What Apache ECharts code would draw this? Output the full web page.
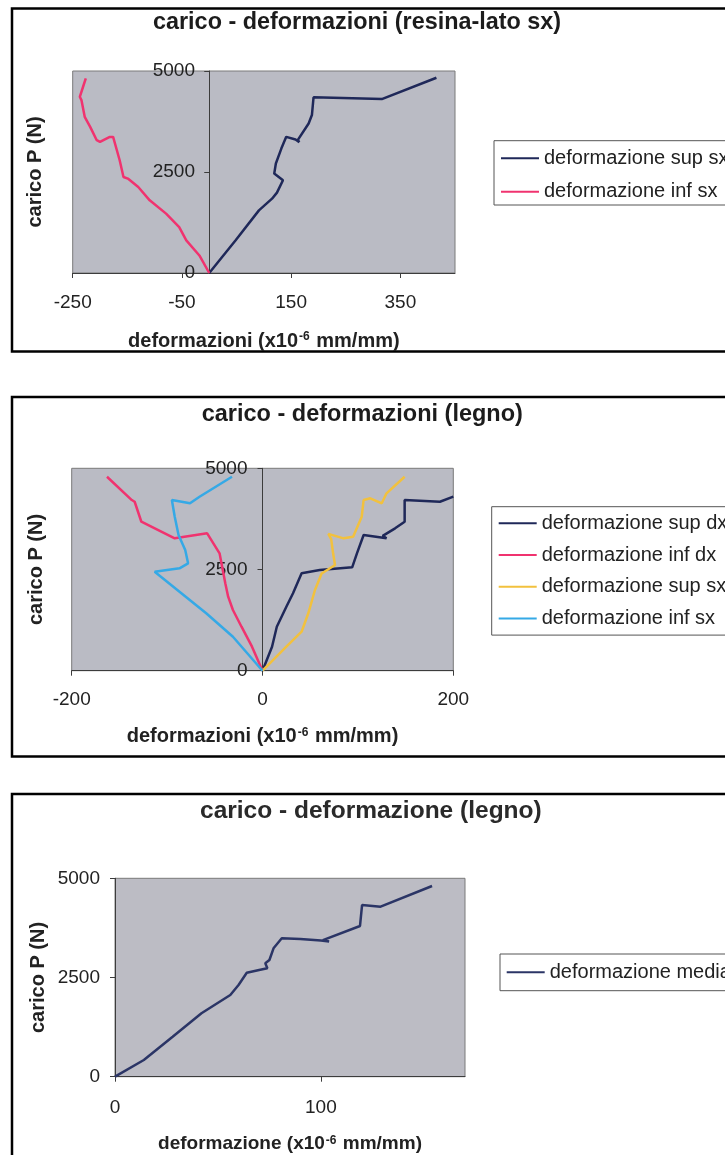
<!DOCTYPE html>
<html>
<head>
<meta charset="utf-8">
<script src="https://cdn.jsdelivr.net/npm/echarts@6/dist/echarts.min.js"></script>
<style>
  html, body { margin: 0; padding: 0; background: #fff; }
  #main { width: 725px; height: 1155px; }
</style>
</head>
<body>
<div id="main"></div>
<script>
// grafico 1: carico - deformazioni (resina-lato sx)  [deformazione, carico]
var resinaSupSx = [[0,0],[48,806],[91,1550],[115,1840],[124,1990],[135,2295],[119,2460],[122,2710],[132,3080],[141,3370],[158,3305],[165,3240],[162,3290],[182,3700],[188,3910],[191,4350],[316,4305],[416,4833]];
var resinaInfSx = [[0,0],[-18,434],[-42,806],[-55,1136],[-79,1469],[-109,1799],[-130,2129],[-149,2337],[-157,2377],[-164,2791],[-176,3369],[-182,3369],[-200,3245],[-206,3287],[-218,3617],[-228,3865],[-234,4280],[-237,4362],[-231,4610],[-226,4818]];

// grafico 2: carico - deformazioni (legno)
var legnoSupDx = [[0,0],[10,593],[15,1087],[25,1581],[32,1912],[41,2406],[60,2487],[94,2554],[99,2900],[106,3352],[130,3270],[126,3330],[139,3517],[149,3680],[149,4216],[186,4174],[200,4300]];
var legnoInfDx = [[0,0],[-11,593],[-22,1087],[-31,1499],[-36,1828],[-39,2159],[-41,2406],[-45,2900],[-58,3394],[-92,3270],[-127,3680],[-134,4174],[-137,4216],[-163,4792]];
var legnoSupSx = [[0,0],[11,264],[25,593],[41,963],[48,1418],[55,1993],[62,2400],[76,2611],[74,2900],[72,3250],[69,3380],[85,3270],[95,3310],[104,3804],[106,4216],[113,4258],[125,4135],[130,4382],[149,4792]];
var legnoInfSx = [[0,0],[-31,840],[-59,1418],[-87,1951],[-113,2445],[-87,2529],[-78,2653],[-81,2981],[-88,3352],[-92,3804],[-95,4216],[-76,4135],[-66,4298],[-32,4792]];

// grafico 3: carico - deformazione (legno), media
var legnoMedia = [[0,0],[14,420],[28,1008],[42,1598],[56,2059],[60,2311],[64,2621],[70,2689],[74,2732],[73,2858],[75,2941],[77,3236],[81,3488],[90,3470],[100,3430],[104,3410],[101,3440],[119,3798],[120,4327],[129,4284],[154,4806]];

// assi: [min, max, passo]
var xAxis1 = [-250, 450, 200];
var xAxis2 = [-200, 200, 200];
var xAxis3 = [0, 170, 100];
var yAxisCarico = [0, 5000, 2500];

var FONT = "'Liberation Sans', Arial, sans-serif";
var C_BLU = '#1f2859', C_ROSA = '#f0336f', C_GIALLO = '#f2c13e', C_AZZURRO = '#35a9e6';

var myChart = echarts.init(document.getElementById('main'));

function xAx(idx, r, name, nameSize, nameGap, lblMargin, showMax) {
  return {
    gridIndex: idx, type: 'value', min: r[0], max: r[1], interval: r[2],
    name: name, nameLocation: 'middle', nameGap: nameGap, nameMoveOverlap: false,
    nameTextStyle: {
      fontFamily: FONT, fontSize: nameSize, fontWeight: 'bold', color: '#222',
      rich: { s: { fontFamily: FONT, fontSize: 12, fontWeight: 'bold', color: '#222', verticalAlign: 'top', padding: [0, 1, 0, 1] } }
    },
    axisLine: { onZero: false, lineStyle: { color: '#3c3c3c', width: 1 } },
    axisTick: { show: true, inside: false, length: 5, lineStyle: { color: '#3c3c3c' } },
    axisLabel: { fontFamily: FONT, fontSize: 19, color: '#222', margin: lblMargin, showMaxLabel: showMax },
    splitLine: { show: false }
  };
}
// lblMargin negativo: le etichette seguono l'asse posto sullo zero
function yAx(idx, gap, lblMargin) {
  return {
    gridIndex: idx, type: 'value', min: yAxisCarico[0], max: yAxisCarico[1], interval: yAxisCarico[2],
    name: 'carico P (N)', nameLocation: 'middle', nameGap: gap, nameRotate: 90, nameMoveOverlap: false,
    nameTextStyle: { fontFamily: FONT, fontSize: 20, fontWeight: 'bold', color: '#222' },
    axisLine: { show: true, onZero: true, lineStyle: { color: '#3c3c3c', width: 1 } },
    axisTick: { show: true, inside: false, length: 5, lineStyle: { color: '#3c3c3c' } },
    axisLabel: { fontFamily: FONT, fontSize: 19, color: '#222', margin: lblMargin,
      formatter: function (v) { return String(v); } },
    splitLine: { show: false }
  };
}
function serie(name, data, color, idx) {
  return {
    name: name, type: 'line', xAxisIndex: idx, yAxisIndex: idx, data: data,
    symbol: 'none', showSymbol: false, silent: true, animation: false,
    lineStyle: { color: color, width: 2.5 }, itemStyle: { color: color }
  };
}
function legenda(names, colors, left, top, gap, pad) {
  return {
    orient: 'vertical', left: left, top: top, itemGap: gap, padding: pad,
    itemWidth: 38, itemHeight: 2, icon: 'rect',
    borderColor: '#555', borderWidth: 1, backgroundColor: '#fff',
    textStyle: { fontFamily: FONT, fontSize: 20, color: '#222' },
    selectedMode: false,
    data: names.map(function (n, i) { return { name: n, itemStyle: { color: colors[i], borderWidth: 0 } }; })
  };
}
function cornice(y, h) {
  return { type: 'rect', shape: { x: 12, y: y, width: 800, height: h }, style: { fill: 'none', stroke: '#000', lineWidth: 2.5 }, silent: true };
}

var option = {
  animation: false,
  backgroundColor: '#fff',
  title: [
    { text: 'carico - deformazioni (resina-lato sx)', left: 153, top: 8.5, padding: 0,
      textStyle: { fontFamily: FONT, fontSize: 23.4, fontWeight: 'bold', color: '#1c1c1c', lineHeight: 28 } },
    { text: 'carico - deformazioni (legno)', left: 201.7, top: 401, padding: 0,
      textStyle: { fontFamily: FONT, fontSize: 23.5, fontWeight: 'bold', color: '#1c1c1c', lineHeight: 28 } },
    { text: 'carico - deformazione (legno)', left: 200, top: 797, padding: 0,
      textStyle: { fontFamily: FONT, fontSize: 24.5, fontWeight: 'bold', color: '#2a2a2a', lineHeight: 29 } }
  ],
  grid: [
    { left: 72.7, top: 71, width: 382.3, height: 202, show: true, backgroundColor: '#babbc4', borderColor: '#7a7a7a', borderWidth: 1, containLabel: false, outerBoundsMode: 'none' },
    { left: 71.7, top: 468.3, width: 381.6, height: 202.4, show: true, backgroundColor: '#babbc4', borderColor: '#7a7a7a', borderWidth: 1, containLabel: false, outerBoundsMode: 'none' },
    { left: 115, top: 878.3, width: 350, height: 198.4, show: true, backgroundColor: '#bcbcc4', borderColor: '#7a7a7a', borderWidth: 1, containLabel: false, outerBoundsMode: 'none' }
  ],
  xAxis: [
    xAx(0, xAxis1, 'deformazioni (x10{s|-6} mm/mm)', 20, 58, 20, false),
    xAx(1, xAxis2, 'deformazioni (x10{s|-6} mm/mm)', 20, 56, 20, true),
    xAx(2, xAxis3, 'deformazione (x10{s|-6} mm/mm)', 19, 58, 22, false)
  ],
  yAxis: [ yAx(0, 27, -122.3), yAx(1, 25, -175.8), yAx(2, 67, 15) ],
  legend: [
    legenda(['deformazione sup sx', 'deformazione inf sx'], [C_BLU, C_ROSA], 494, 140.7, 13.4, [7.6, 20, 3.3, 7]),
    legenda(['deformazione sup dx', 'deformazione inf dx', 'deformazione sup sx', 'deformazione inf sx'],
            [C_BLU, C_ROSA, C_GIALLO, C_AZZURRO], 491.7, 506.7, 11.7, [6.6, 20, 6.7, 7]),
    legenda(['deformazione media'], ['#2b3566'], 500, 954, 10, [8.3, 20, 8.4, 6.7])
  ],
  graphic: [ cornice(8.5, 343), cornice(397, 359.5), cornice(794, 400) ],
  series: [
    serie('deformazione sup sx', resinaSupSx, C_BLU, 0),
    serie('deformazione inf sx', resinaInfSx, C_ROSA, 0),
    serie('deformazione sup dx', legnoSupDx, C_BLU, 1),
    serie('deformazione inf dx', legnoInfDx, C_ROSA, 1),
    serie('deformazione sup sx', legnoSupSx, C_GIALLO, 1),
    serie('deformazione inf sx', legnoInfSx, C_AZZURRO, 1),
    serie('deformazione media', legnoMedia, '#2b3566', 2)
  ]
};
myChart.setOption(option);
</script>
</body>
</html>
